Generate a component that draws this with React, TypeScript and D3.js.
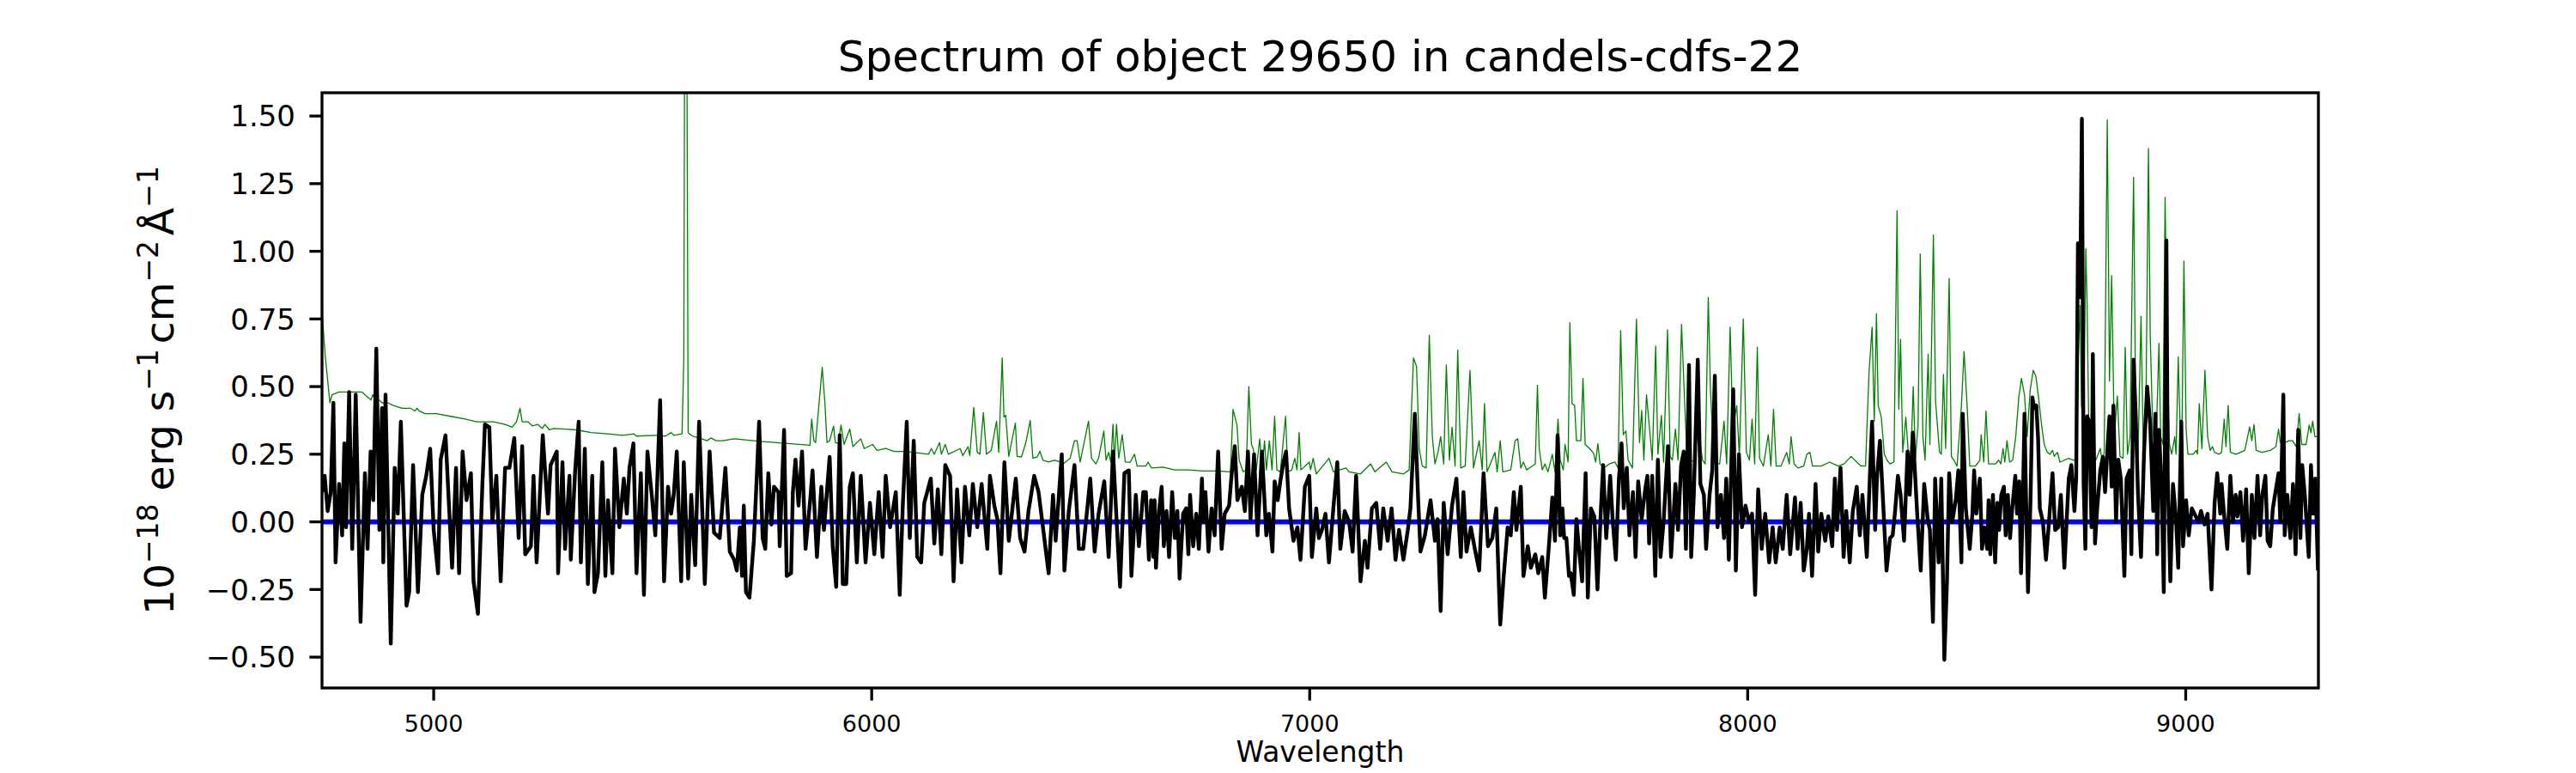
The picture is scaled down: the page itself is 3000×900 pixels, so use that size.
import * as d3 from "d3";

const width = 3000;
const height = 900;
const marginLeft = 375;
const marginRight = 300;
const marginTop = 108;
const marginBottom = 99;
const font = "DejaVu Sans";

const waveRange: [number, number] = [4745, 9303];
const fluxRange: [number, number] = [-0.614, 1.586];
const xTicks = [5000, 6000, 7000, 8000, 9000];
const yTicks = [-0.5, -0.25, 0, 0.25, 0.5, 0.75, 1.0, 1.25, 1.5];
const zeroLevel = 0;

// object spectrum [wavelength, flux]
const objectFlux: [number, number][] = [
  [4745, 0.11], [4751, 0.17], [4758, 0.04], [4765, 0.11], [4771, 0.44], [4776, -0.15], [4784, 0.14], [4791, -0.05], [4796, 0.29], [4800, -0.02],
  [4807, 0.48], [4814, -0.10], [4822, 0.47], [4833, -0.37], [4843, 0.18], [4849, -0.10], [4856, 0.26], [4862, 0.08], [4869, 0.64], [4876, -0.03],
  [4882, 0.42], [4885, -0.15], [4890, 0.47], [4902, -0.45], [4911, 0.20], [4918, 0.03], [4925, 0.37], [4938, -0.31], [4944, -0.26], [4953, 0.21],
  [4964, -0.26], [4974, 0.10], [4983, 0.17], [4992, 0.27], [5000, -0.03], [5010, -0.19], [5016, 0.23], [5027, 0.32], [5042, -0.17], [5051, 0.20],
  [5058, -0.19], [5066, 0.26], [5075, 0.08], [5085, 0.18], [5091, -0.22], [5101, -0.34], [5111, 0.13], [5117, 0.36], [5127, 0.35], [5134, 0.00],
  [5143, 0.17], [5153, -0.22], [5163, 0.20], [5173, 0.20], [5184, 0.31], [5194, -0.06], [5202, 0.28], [5209, -0.12], [5222, -0.09], [5228, 0.17],
  [5235, -0.15], [5249, 0.32], [5261, 0.03], [5267, 0.21], [5281, 0.26], [5284, -0.19], [5294, 0.22], [5300, -0.10], [5310, 0.17], [5313, -0.14],
  [5323, 0.19], [5331, 0.37], [5336, -0.15], [5345, 0.27], [5352, -0.23], [5362, 0.17], [5367, -0.26], [5375, -0.19], [5385, 0.22], [5392, -0.20],
  [5398, 0.08], [5408, -0.19], [5414, 0.27], [5424, -0.02], [5434, 0.16], [5441, 0.03], [5447, 0.20], [5456, 0.29], [5463, -0.19], [5473, 0.18],
  [5480, -0.27], [5488, 0.26], [5499, 0.08], [5506, -0.05], [5517, 0.45], [5526, -0.22], [5535, 0.13], [5542, 0.03], [5548, 0.10], [5555, 0.26],
  [5565, -0.22], [5571, 0.22], [5581, -0.21], [5588, 0.10], [5597, -0.16], [5606, 0.37], [5619, -0.23], [5630, 0.26], [5640, -0.04], [5653, -0.06],
  [5666, 0.20], [5676, -0.11], [5686, -0.14], [5692, -0.18], [5699, -0.02], [5704, -0.20], [5708, 0.06], [5713, -0.26], [5721, -0.28], [5731, -0.07],
  [5738, 0.18], [5743, 0.37], [5751, -0.06], [5757, -0.10], [5764, 0.18], [5771, -0.01], [5777, 0.13], [5787, 0.11], [5790, -0.09], [5800, 0.34],
  [5806, -0.20], [5816, -0.19], [5820, 0.11], [5826, 0.23], [5833, 0.06], [5841, 0.26], [5849, -0.10], [5859, 0.07], [5865, 0.19], [5875, -0.13],
  [5885, 0.13], [5891, -0.03], [5904, 0.24], [5911, -0.09], [5919, -0.24], [5927, 0.32], [5934, -0.23], [5942, -0.23], [5950, 0.13], [5957, 0.18],
  [5966, -0.15], [5975, 0.17], [5986, -0.15], [5996, 0.07], [6006, -0.12], [6016, 0.11], [6025, -0.13], [6032, 0.17], [6042, -0.02], [6055, 0.11],
  [6064, -0.27], [6071, 0.06], [6080, 0.37], [6087, -0.06], [6096, 0.30], [6104, -0.13], [6113, -0.15], [6120, 0.07], [6135, 0.16], [6143, -0.08],
  [6151, 0.12], [6159, -0.12], [6168, 0.21], [6179, 0.17], [6187, -0.22], [6195, 0.12], [6205, -0.15], [6213, 0.13], [6223, -0.05], [6231, 0.14],
  [6241, -0.02], [6251, 0.14], [6264, -0.10], [6270, 0.17], [6280, 0.06], [6287, 0.01], [6294, -0.19], [6303, 0.22], [6313, -0.07], [6329, 0.16],
  [6339, -0.06], [6349, -0.11], [6358, 0.04], [6371, 0.17], [6381, 0.11], [6391, -0.02], [6404, -0.19], [6414, 0.10], [6420, -0.07], [6434, 0.25],
  [6440, -0.18], [6450, 0.04], [6463, 0.21], [6473, -0.10], [6483, -0.10], [6499, 0.16], [6509, -0.11], [6518, 0.03], [6531, 0.15], [6541, -0.13],
  [6551, 0.26], [6567, -0.24], [6577, 0.18], [6587, 0.19], [6593, -0.20], [6603, 0.10], [6610, -0.09], [6620, 0.11], [6626, 0.11], [6633, -0.14],
  [6638, 0.08], [6643, -0.13], [6646, 0.08], [6649, -0.17], [6656, 0.04], [6662, 0.13], [6667, -0.09], [6673, 0.04], [6679, -0.13], [6686, 0.11],
  [6692, -0.06], [6698, 0.04], [6703, -0.21], [6711, 0.03], [6718, 0.05], [6723, -0.12], [6727, 0.10], [6734, -0.09], [6741, 0.03], [6747, -0.10],
  [6754, 0.16], [6757, 0.00], [6762, 0.11], [6769, -0.11], [6776, 0.05], [6783, -0.05], [6791, 0.26], [6799, -0.10], [6806, 0.03], [6816, 0.06],
  [6822, 0.18], [6829, 0.28], [6835, 0.08], [6845, 0.13], [6852, 0.04], [6859, 0.26], [6865, 0.01], [6873, 0.25], [6881, -0.05], [6891, 0.26],
  [6901, -0.05], [6907, 0.03], [6915, -0.11], [6920, 0.15], [6927, 0.08], [6933, 0.15], [6940, 0.22], [6946, 0.26], [6953, 0.05], [6963, -0.07],
  [6972, -0.02], [6979, -0.14], [6989, 0.13], [6999, 0.17], [7005, -0.13], [7015, 0.05], [7021, -0.06], [7028, -0.03], [7036, 0.03], [7044, -0.15],
  [7054, 0.05], [7063, 0.22], [7070, -0.10], [7080, 0.04], [7090, 0.00], [7098, -0.11], [7106, 0.17], [7116, -0.22], [7126, -0.07], [7132, -0.17],
  [7142, 0.05], [7152, 0.07], [7161, -0.10], [7168, 0.05], [7178, -0.07], [7187, 0.05], [7196, -0.14], [7204, -0.03], [7214, -0.14], [7224, -0.03],
  [7230, 0.05], [7240, 0.40], [7248, 0.07], [7253, -0.11], [7263, -0.05], [7276, 0.08], [7286, -0.07], [7292, 0.01], [7299, -0.33], [7306, 0.07],
  [7315, -0.12], [7325, 0.06], [7335, 0.16], [7345, -0.13], [7351, 0.11], [7358, -0.11], [7368, -0.02], [7377, -0.10], [7387, -0.18], [7397, 0.18],
  [7407, -0.09], [7417, -0.06], [7426, 0.05], [7435, -0.38], [7443, -0.20], [7452, -0.02], [7459, -0.05], [7466, 0.11], [7472, -0.03], [7482, 0.13],
  [7488, -0.20], [7498, -0.09], [7505, -0.17], [7515, -0.12], [7522, -0.19], [7531, -0.13], [7537, -0.28], [7547, -0.07], [7554, 0.09], [7560, -0.07],
  [7566, 0.32], [7572, -0.05], [7577, 0.05], [7581, -0.06], [7586, -0.06], [7592, -0.20], [7596, -0.19], [7603, -0.27], [7609, 0.01], [7616, -0.12],
  [7622, -0.22], [7630, 0.18], [7635, -0.28], [7642, 0.05], [7650, 0.02], [7657, -0.25], [7665, 0.05], [7670, 0.21], [7677, -0.06], [7686, 0.17],
  [7692, 0.00], [7699, -0.14], [7706, 0.16], [7712, 0.29], [7717, 0.05], [7724, 0.20], [7730, -0.05], [7738, 0.11], [7744, -0.13], [7750, 0.15],
  [7758, 0.01], [7766, 0.12], [7771, 0.17], [7775, -0.08], [7782, 0.17], [7789, -0.20], [7795, 0.23], [7801, -0.13], [7808, 0.00], [7818, 0.28],
  [7825, -0.13], [7835, 0.14], [7841, -0.03], [7848, 0.21], [7854, 0.26], [7859, -0.10], [7866, 0.58], [7871, -0.13], [7877, 0.10], [7886, 0.60],
  [7892, 0.14], [7900, 0.10], [7905, -0.10], [7913, 0.10], [7919, 0.19], [7925, 0.54], [7931, -0.02], [7939, 0.10], [7946, -0.06], [7951, 0.16],
  [7957, -0.14], [7962, 0.17], [7967, 0.49], [7973, -0.18], [7980, 0.25], [7987, -0.02], [7995, 0.06], [8003, 0.00], [8010, 0.03], [8017, -0.27],
  [8024, 0.12], [8032, -0.10], [8040, 0.03], [8049, -0.15], [8057, -0.02], [8064, -0.15], [8073, -0.02], [8080, -0.10], [8089, 0.10], [8097, -0.12],
  [8108, 0.09], [8114, -0.10], [8121, 0.07], [8128, -0.18], [8135, -0.10], [8140, 0.03], [8147, -0.20], [8155, 0.14], [8161, -0.11], [8168, 0.03],
  [8177, -0.07], [8184, 0.02], [8193, -0.09], [8199, 0.16], [8204, -0.03], [8212, 0.20], [8219, -0.13], [8225, 0.04], [8233, -0.15], [8240, 0.04],
  [8249, 0.13], [8256, -0.05], [8262, 0.10], [8272, -0.13], [8279, 0.17], [8284, 0.37], [8291, -0.03], [8295, 0.16], [8302, 0.30], [8308, 0.11],
  [8317, -0.18], [8325, -0.06], [8331, -0.05], [8336, 0.03], [8343, 0.17], [8349, 0.10], [8357, -0.07], [8365, 0.26], [8370, 0.10], [8377, 0.33],
  [8387, 0.03], [8395, -0.18], [8403, 0.14], [8411, 0.01], [8416, -0.03], [8423, -0.37], [8428, 0.16], [8436, -0.15], [8442, 0.16], [8449, -0.51],
  [8455, -0.22], [8460, 0.18], [8467, 0.00], [8475, 0.08], [8481, 0.19], [8488, -0.15], [8491, 0.40], [8498, 0.05], [8507, -0.10], [8513, 0.03],
  [8517, 0.19], [8522, 0.03], [8526, 0.10], [8530, 0.16], [8535, -0.10], [8540, -0.02], [8547, -0.10], [8550, 0.08], [8554, -0.12], [8560, 0.10],
  [8565, -0.15], [8570, 0.07], [8574, -0.03], [8579, 0.10], [8585, 0.13], [8589, -0.05], [8594, 0.10], [8599, -0.06], [8604, 0.05], [8611, 0.17],
  [8615, 0.03], [8620, 0.15], [8624, -0.19], [8628, 0.05], [8632, 0.40], [8635, 0.13], [8640, -0.26], [8646, 0.10], [8650, 0.46], [8654, 0.42],
  [8659, 0.43], [8663, 0.31], [8667, 0.05], [8674, 0.00], [8681, -0.14], [8687, -0.02], [8696, 0.18], [8702, -0.03], [8709, -0.02], [8715, 0.10],
  [8723, -0.17], [8733, 0.16], [8739, 0.21], [8746, 0.04], [8750, 0.16], [8754, 1.03], [8759, 0.83], [8763, 1.49], [8767, 0.14], [8771, -0.10],
  [8775, 0.39], [8780, 0.37], [8785, -0.02], [8788, 0.62], [8793, -0.08], [8798, 0.05], [8805, 0.19], [8811, 0.24], [8816, 0.11], [8821, 0.26],
  [8826, 0.39], [8831, 0.13], [8835, 0.43], [8841, 0.00], [8846, 0.23], [8852, 0.16], [8860, -0.20], [8865, 0.16], [8872, 0.19], [8876, -0.12],
  [8881, 0.60], [8886, 0.39], [8891, 0.11], [8898, -0.13], [8905, 0.26], [8912, 0.50], [8919, 0.36], [8926, 0.04], [8931, 0.40], [8935, -0.12],
  [8939, 0.34], [8945, 0.13], [8950, -0.26], [8956, 1.04], [8959, 0.17], [8965, -0.22], [8971, 0.14], [8978, 0.01], [8983, -0.17], [8990, 0.37],
  [8994, -0.09], [9001, 0.08], [9007, -0.05], [9014, 0.05], [9020, 0.03], [9029, 0.00], [9035, 0.04], [9043, -0.01], [9050, 0.03], [9059, -0.25],
  [9066, 0.07], [9072, 0.18], [9079, 0.03], [9082, 0.14], [9087, 0.04], [9095, -0.10], [9102, 0.17], [9108, 0.00], [9114, 0.10], [9118, 0.02],
  [9125, 0.11], [9131, -0.07], [9138, 0.12], [9144, -0.19], [9151, 0.10], [9157, -0.06], [9164, 0.17], [9170, -0.05], [9175, 0.10], [9182, 0.17],
  [9187, -0.07], [9193, -0.09], [9199, 0.05], [9205, 0.11], [9212, 0.18], [9216, 0.00], [9223, 0.47], [9226, -0.05], [9232, 0.10], [9239, -0.06],
  [9245, 0.14], [9251, -0.12], [9257, 0.34], [9262, -0.06], [9266, 0.21], [9272, 0.10], [9277, -0.03], [9281, -0.13], [9286, 0.21], [9291, 0.03],
  [9296, 0.16], [9302, -0.18],
];

// noise / sky spectrum [wavelength, flux]
const skyNoise: [number, number][] = [
  [4745, 0.78], [4752, 0.62], [4763, 0.44], [4768, 0.47], [4784, 0.48], [4810, 0.48], [4836, 0.48], [4850, 0.46], [4857, 0.45], [4861, 0.47],
  [4866, 0.45], [4876, 0.45], [4882, 0.44], [4895, 0.44], [4908, 0.43], [4928, 0.42], [4947, 0.42], [4957, 0.41], [4962, 0.42], [4967, 0.41],
  [4980, 0.40], [5006, 0.40], [5039, 0.39], [5072, 0.38], [5098, 0.37], [5124, 0.37], [5137, 0.37], [5163, 0.36], [5179, 0.35], [5189, 0.37],
  [5197, 0.42], [5202, 0.37], [5215, 0.37], [5225, 0.355], [5238, 0.36], [5248, 0.345], [5254, 0.36], [5264, 0.34], [5274, 0.345], [5300, 0.343],
  [5326, 0.34], [5359, 0.33], [5398, 0.325], [5431, 0.32], [5457, 0.325], [5463, 0.317], [5509, 0.32], [5529, 0.317], [5542, 0.33], [5548, 0.32],
  [5567, 0.325], [5571, 0.6], [5573, 1.8], [5578, 1.8], [5581, 0.33], [5588, 0.32], [5594, 0.315], [5607, 0.31], [5624, 0.30], [5633, 0.31],
  [5645, 0.30], [5660, 0.30], [5686, 0.307], [5751, 0.297], [5816, 0.289], [5859, 0.283], [5863, 0.38], [5868, 0.30], [5872, 0.293], [5887, 0.571],
  [5893, 0.444], [5898, 0.293], [5904, 0.30], [5913, 0.354], [5917, 0.293], [5924, 0.29], [5930, 0.358], [5937, 0.286], [5950, 0.343], [5957, 0.278],
  [5975, 0.307], [5983, 0.271], [6002, 0.286], [6012, 0.264], [6032, 0.271], [6051, 0.26], [6077, 0.26], [6110, 0.254], [6130, 0.25], [6136, 0.271],
  [6143, 0.25], [6155, 0.293], [6159, 0.25], [6168, 0.286], [6175, 0.25], [6202, 0.271], [6208, 0.245], [6220, 0.278], [6224, 0.245], [6233, 0.423],
  [6241, 0.257], [6247, 0.25], [6255, 0.404], [6262, 0.25], [6273, 0.264], [6285, 0.372], [6290, 0.257], [6298, 0.606], [6302, 0.387], [6306, 0.394],
  [6313, 0.242], [6328, 0.365], [6332, 0.242], [6342, 0.24], [6352, 0.293], [6362, 0.375], [6368, 0.235], [6378, 0.24], [6384, 0.261], [6391, 0.228],
  [6404, 0.221], [6417, 0.228], [6433, 0.221], [6437, 0.214], [6453, 0.235], [6463, 0.30], [6469, 0.30], [6476, 0.221], [6495, 0.372], [6502, 0.235],
  [6512, 0.214], [6518, 0.235], [6530, 0.336], [6535, 0.228], [6541, 0.257], [6546, 0.22], [6551, 0.361], [6554, 0.221], [6559, 0.361], [6564, 0.235],
  [6572, 0.322], [6579, 0.221], [6590, 0.22], [6600, 0.25], [6606, 0.206], [6626, 0.206], [6631, 0.221], [6639, 0.199], [6665, 0.202], [6692, 0.192],
  [6724, 0.192], [6757, 0.188], [6790, 0.188], [6819, 0.185], [6825, 0.416], [6834, 0.358], [6839, 0.228], [6848, 0.185], [6855, 0.192], [6861, 0.50],
  [6867, 0.286], [6871, 0.271], [6878, 0.192], [6886, 0.307], [6891, 0.192], [6897, 0.30], [6901, 0.192], [6908, 0.30], [6914, 0.192], [6920, 0.39],
  [6925, 0.192], [6933, 0.185], [6945, 0.39], [6950, 0.185], [6959, 0.192], [6966, 0.235], [6971, 0.192], [6976, 0.33], [6980, 0.192], [6999, 0.221],
  [7002, 0.192], [7008, 0.235], [7015, 0.177], [7044, 0.235], [7054, 0.185], [7083, 0.199], [7090, 0.185], [7116, 0.177], [7139, 0.214], [7149, 0.185],
  [7175, 0.221], [7188, 0.185], [7214, 0.177], [7227, 0.192], [7237, 0.606], [7244, 0.574], [7250, 0.271], [7257, 0.206], [7266, 0.199], [7273, 0.69],
  [7280, 0.315], [7286, 0.214], [7293, 0.257], [7299, 0.315], [7306, 0.214], [7312, 0.58], [7319, 0.228], [7325, 0.35], [7332, 0.206], [7338, 0.635],
  [7345, 0.199], [7355, 0.206], [7366, 0.56], [7374, 0.199], [7387, 0.30], [7394, 0.192], [7399, 0.437], [7405, 0.185], [7423, 0.257], [7428, 0.185],
  [7435, 0.30], [7441, 0.185], [7459, 0.192], [7469, 0.30], [7475, 0.307], [7482, 0.199], [7488, 0.221], [7495, 0.192], [7515, 0.214], [7520, 0.505],
  [7524, 0.271], [7531, 0.192], [7537, 0.214], [7544, 0.185], [7554, 0.25], [7560, 0.185], [7567, 0.38], [7572, 0.228], [7579, 0.192], [7583, 0.286],
  [7590, 0.221], [7594, 0.736], [7599, 0.437], [7605, 0.43], [7609, 0.30], [7619, 0.30], [7624, 0.53], [7629, 0.286], [7639, 0.271], [7648, 0.254],
  [7653, 0.221], [7658, 0.289], [7663, 0.214], [7671, 0.199], [7684, 0.214], [7697, 0.221], [7704, 0.199], [7710, 0.707], [7716, 0.322], [7722, 0.336],
  [7727, 0.228], [7737, 0.199], [7746, 0.75], [7753, 0.293], [7758, 0.412], [7763, 0.228], [7769, 0.47], [7776, 0.343], [7782, 0.228], [7790, 0.65],
  [7795, 0.25], [7803, 0.394], [7808, 0.221], [7817, 0.71], [7823, 0.242], [7828, 0.228], [7835, 0.343], [7841, 0.228], [7849, 0.73], [7856, 0.444],
  [7861, 0.257], [7867, 0.221], [7877, 0.228], [7887, 0.343], [7897, 0.228], [7903, 0.214], [7910, 0.83], [7915, 0.485], [7923, 0.235], [7929, 0.214],
  [7936, 0.214], [7946, 0.372], [7952, 0.214], [7960, 0.72], [7966, 0.343], [7975, 0.43], [7981, 0.242], [7990, 0.75], [7997, 0.257], [8004, 0.228],
  [8010, 0.38], [8016, 0.214], [8022, 0.646], [8027, 0.235], [8036, 0.206], [8047, 0.322], [8053, 0.206], [8059, 0.416], [8065, 0.206], [8076, 0.206],
  [8089, 0.257], [8095, 0.214], [8099, 0.315], [8106, 0.214], [8115, 0.199], [8128, 0.206], [8135, 0.25], [8142, 0.257], [8148, 0.206], [8168, 0.206],
  [8187, 0.221], [8207, 0.206], [8220, 0.214], [8236, 0.242], [8249, 0.221], [8259, 0.206], [8269, 0.206], [8277, 0.55], [8284, 0.72], [8289, 0.372],
  [8294, 0.77], [8298, 0.43], [8305, 0.387], [8312, 0.25], [8318, 0.228], [8325, 0.214], [8334, 0.221], [8341, 1.15], [8345, 0.416], [8349, 0.675],
  [8354, 0.257], [8361, 0.387], [8367, 0.25], [8372, 0.206], [8378, 0.50], [8383, 0.235], [8389, 0.358], [8394, 0.99], [8400, 0.315], [8405, 0.228],
  [8412, 0.62], [8416, 0.286], [8424, 1.06], [8429, 0.444], [8438, 0.257], [8442, 0.25], [8447, 0.545], [8452, 0.271], [8460, 0.90], [8465, 0.242],
  [8471, 0.228], [8478, 0.206], [8488, 0.43], [8494, 0.63], [8501, 0.43], [8507, 0.206], [8520, 0.206], [8530, 0.228], [8533, 0.322], [8539, 0.221],
  [8544, 0.41], [8550, 0.214], [8566, 0.214], [8573, 0.228], [8578, 0.214], [8583, 0.271], [8587, 0.221], [8592, 0.30], [8598, 0.221], [8605, 0.228],
  [8612, 0.315], [8619, 0.46], [8625, 0.53], [8632, 0.47], [8638, 0.315], [8645, 0.488], [8652, 0.56], [8658, 0.538], [8664, 0.46], [8671, 0.358],
  [8677, 0.286], [8684, 0.257], [8690, 0.25], [8696, 0.264], [8700, 0.242], [8707, 0.257], [8713, 0.221], [8723, 0.228], [8733, 0.235], [8743, 0.228],
  [8748, 0.231], [8752, 0.487], [8759, 0.80], [8762, 0.43], [8767, 0.358], [8772, 1.01], [8775, 0.80], [8779, 0.315], [8785, 0.228], [8795, 0.228],
  [8805, 0.271], [8809, 0.228], [8814, 0.257], [8821, 1.486], [8826, 0.52], [8831, 0.91], [8837, 0.315], [8844, 0.466], [8850, 0.242], [8857, 0.235],
  [8862, 0.646], [8867, 0.25], [8873, 0.315], [8881, 1.274], [8886, 0.387], [8891, 0.228], [8898, 0.76], [8903, 0.293], [8909, 0.387], [8915, 1.38],
  [8919, 0.69], [8925, 0.329], [8932, 0.271], [8939, 0.66], [8943, 0.315], [8948, 0.286], [8953, 1.20], [8958, 0.60], [8963, 0.286], [8968, 0.25],
  [8975, 0.315], [8978, 0.25], [8983, 0.61], [8988, 0.30], [8991, 0.257], [8996, 0.964], [9001, 0.343], [9005, 0.25], [9017, 0.25], [9024, 0.264],
  [9027, 0.25], [9031, 0.437], [9037, 0.271], [9044, 0.56], [9050, 0.315], [9056, 0.264], [9061, 0.278], [9066, 0.257], [9076, 0.25], [9082, 0.257],
  [9088, 0.38], [9092, 0.278], [9097, 0.43], [9102, 0.257], [9115, 0.25], [9135, 0.264], [9146, 0.351], [9151, 0.30], [9156, 0.36], [9161, 0.264],
  [9174, 0.257], [9193, 0.264], [9206, 0.278], [9212, 0.343], [9216, 0.293], [9226, 0.293], [9236, 0.30], [9244, 0.30], [9252, 0.278], [9259, 0.40],
  [9265, 0.286], [9275, 0.286], [9282, 0.358], [9286, 0.329], [9290, 0.372], [9295, 0.315], [9302, 0.315],
];

const App = () => {
  const x = d3.scaleLinear(waveRange, [marginLeft, width - marginRight]);
  const y = d3.scaleLinear(fluxRange, [height - marginBottom, marginTop]);
  const line = d3.line<[number, number]>((d) => x(d[0]), (d) => y(d[1]));
  const fmt = d3.format(".2f");
  const plotW = width - marginLeft - marginRight;
  const plotH = height - marginTop - marginBottom;
  const cx = marginLeft + plotW / 2;

  return (
    <svg
      width={width}
      height={height}
      style={{ position: "absolute", left: 0, top: 0, background: "white" }}
      fontFamily={font}
    >
      <defs>
        <clipPath id="plot">
          <rect x={marginLeft} y={marginTop} width={plotW} height={plotH} />
        </clipPath>
      </defs>

      <g clipPath="url(#plot)" fill="none" strokeLinejoin="round">
        <path d={line(skyNoise) as string} stroke="green" strokeWidth={1.3} />
        <path
          d={line([[waveRange[0], zeroLevel], [waveRange[1], zeroLevel]]) as string}
          stroke="blue"
          strokeWidth={5.6}
        />
        <path d={line(objectFlux) as string} stroke="black" strokeWidth={4.4} />
      </g>

      <rect x={marginLeft} y={marginTop} width={plotW} height={plotH} fill="none" stroke="black" strokeWidth={3.3} />

      {xTicks.map((t) => (
        <g key={t} transform={`translate(${x(t)},${height - marginBottom})`}>
          <line y2={14.6} stroke="black" strokeWidth={3.3} />
          <text y={51} textAnchor="middle" fontSize={27}>{t}</text>
        </g>
      ))}

      {yTicks.map((t) => (
        <g key={t} transform={`translate(${marginLeft},${y(t)})`}>
          <line x2={-14.6} stroke="black" strokeWidth={3.3} />
          <text x={-31} y={12.4} textAnchor="end" fontSize={34}>{fmt(t)}</text>
        </g>
      ))}

      <text x={cx} y={83} textAnchor="middle" fontSize={50}>
        Spectrum of object 29650 in candels-cdfs-22
      </text>

      <text x={cx} y={887} textAnchor="middle" fontSize={33}>Wavelength</text>

      <text transform={`translate(202,${marginTop + plotH / 2}) rotate(-90)`} textAnchor="middle" fontSize={47}>
        10<tspan dy={-18} fontSize={33}>−18</tspan>
        <tspan dy={18}>{"\u00a0erg\u00a0s"}</tspan>
        <tspan dy={-18} fontSize={33}>−1</tspan>
        <tspan dy={18} dx={6}>cm</tspan>
        <tspan dy={-18} fontSize={33}>−2</tspan>
        <tspan dy={18} dx={6}>Å</tspan>
        <tspan dy={-18} fontSize={33}>−1</tspan>
      </text>
    </svg>
  );
};

export default App;
